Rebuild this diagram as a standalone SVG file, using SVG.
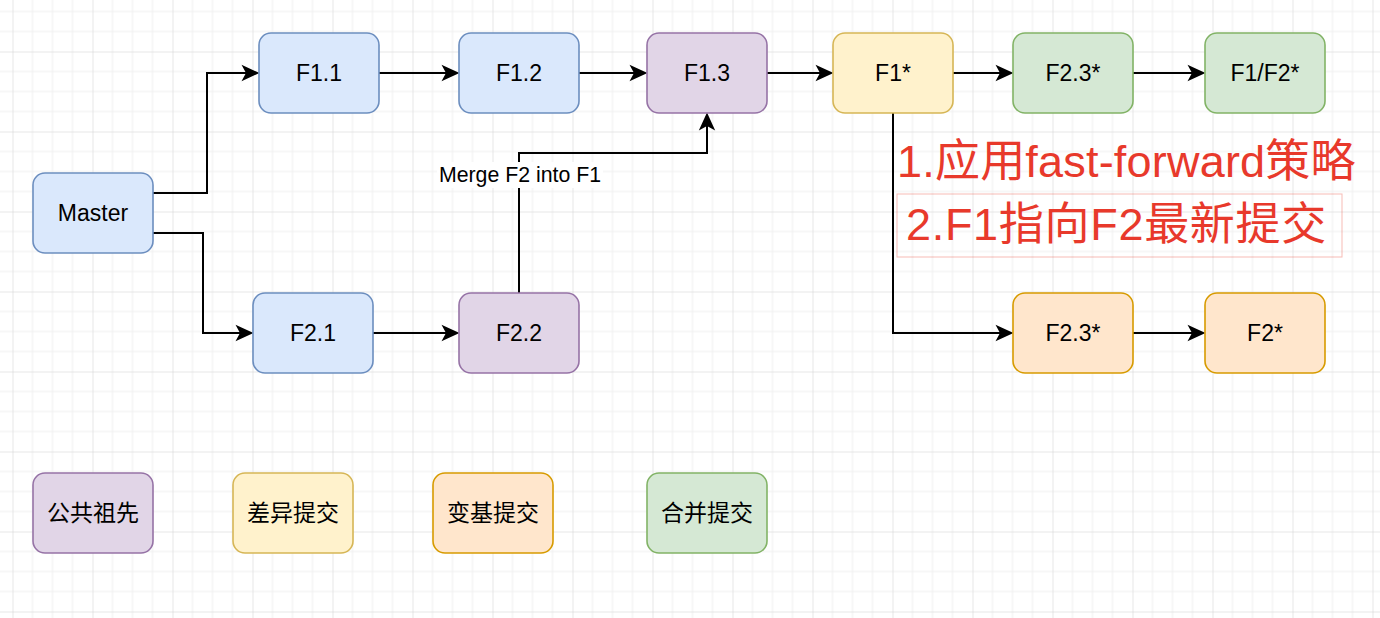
<svg xmlns="http://www.w3.org/2000/svg" width="1380" height="618" viewBox="0 0 1380 618">
<style>
.n rect{stroke-width:1.6}
.n text{font-family:"Liberation Sans","Noto Sans CJK SC",sans-serif;font-size:23px;text-anchor:middle;fill:#000}
.blue rect{fill:#dae8fc;stroke:#6c8ebf}
.purple rect{fill:#e1d5e7;stroke:#9673a6}
.yellow rect{fill:#fff2cc;stroke:#d6b656}
.orange rect{fill:#ffe6cc;stroke:#d79b00}
.green rect{fill:#d5e8d4;stroke:#82b366}
.e path{fill:none;stroke:#000;stroke-width:2;marker-end:url(#arr)}
.red{font-family:"Liberation Sans","Noto Sans CJK SC",sans-serif;font-size:45px;fill:#e8392b}
</style>
<defs>
<pattern id="grid" patternUnits="userSpaceOnUse" x="12.5" y="51.5" width="80" height="80">
<path d="M20,0V80M40,0V80M60,0V80M0,20H80M0,40H80M0,60H80" stroke="#efefef" stroke-width="1" fill="none"/>
<path d="M0,0V80M0,0H80" stroke="#d0d0d0" stroke-width="1" fill="none"/>
</pattern>
<marker id="arr" viewBox="0 0 20 20" refX="13" refY="10" markerWidth="20" markerHeight="20" markerUnits="userSpaceOnUse" orient="auto">
<path d="M18.5,10 L0.5,1.8 L5,10 L0.5,18.2 Z" fill="#000"/>
</marker>
</defs>
<rect width="1380" height="618" fill="#fff"/>
<rect width="1380" height="618" fill="url(#grid)"/>

<g id="connectors" class="e">
<path d="M153,193 H207 V73 H254"/>
<path d="M153,233 H203 V333 H248"/>
<path d="M379,73 H454"/>
<path d="M579,73 H642"/>
<path d="M767,73 H828"/>
<path d="M953,73 H1008"/>
<path d="M1133,73 H1200"/>
<path d="M373,333 H454"/>
<path d="M519,293 V153 H707 V118"/>
<path d="M893,113 V333 H1008"/>
<path d="M1133,333 H1200"/>
<g id="merge-label">
<rect x="437" y="162" width="166" height="26" fill="#fff"/>
<text x="520" y="182" font-family="'Liberation Sans',sans-serif" font-size="21.3" text-anchor="middle" fill="#000">Merge F2 into F1</text>
</g>
</g>

<g id="master" class="n blue"><rect x="33" y="173" width="120" height="80" rx="12"/><text x="93" y="221">Master</text></g>
<g id="f1_1" class="n blue"><rect x="259" y="33" width="120" height="80" rx="12"/><text x="319" y="81">F1.1</text></g>
<g id="f1_2" class="n blue"><rect x="459" y="33" width="120" height="80" rx="12"/><text x="519" y="81">F1.2</text></g>
<g id="f1_3" class="n purple"><rect x="647" y="33" width="120" height="80" rx="12"/><text x="707" y="81">F1.3</text></g>
<g id="f1star" class="n yellow"><rect x="833" y="33" width="120" height="80" rx="12"/><text x="893" y="81">F1*</text></g>
<g id="f2_3star_merge" class="n green"><rect x="1013" y="33" width="120" height="80" rx="12"/><text x="1073" y="81">F2.3*</text></g>
<g id="f1f2star" class="n green"><rect x="1205" y="33" width="120" height="80" rx="12"/><text x="1265" y="81">F1/F2*</text></g>
<g id="f2_1" class="n blue"><rect x="253" y="293" width="120" height="80" rx="12"/><text x="313" y="341">F2.1</text></g>
<g id="f2_2" class="n purple"><rect x="459" y="293" width="120" height="80" rx="12"/><text x="519" y="341">F2.2</text></g>
<g id="f2_3star_rebase" class="n orange"><rect x="1013" y="293" width="120" height="80" rx="12"/><text x="1073" y="341">F2.3*</text></g>
<g id="f2star" class="n orange"><rect x="1205" y="293" width="120" height="80" rx="12"/><text x="1265" y="341">F2*</text></g>

<g id="legend-ancestor" class="n purple"><rect x="33" y="473" width="120" height="80" rx="12"/><text x="93" y="521">公共祖先</text></g>
<g id="legend-diff" class="n yellow"><rect x="233" y="473" width="120" height="80" rx="12"/><text x="293" y="521">差异提交</text></g>
<g id="legend-rebase" class="n orange"><rect x="433" y="473" width="120" height="80" rx="12"/><text x="493" y="521">变基提交</text></g>
<g id="legend-merge" class="n green"><rect x="647" y="473" width="120" height="80" rx="12"/><text x="707" y="521">合并提交</text></g>

<g id="note">
<text class="red" x="897" y="177" letter-spacing="0.2">1.应用fast-forward策略</text>
<rect x="897" y="194" width="445" height="63" fill="none" stroke="#e8392b" stroke-opacity="0.35" stroke-width="1"/>
<text class="red" x="906" y="240" letter-spacing="0.7">2.F1指向F2最新提交</text>
</g>
</svg>
